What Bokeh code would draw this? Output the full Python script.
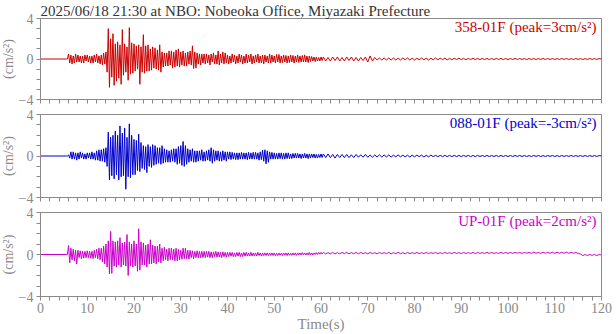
import numpy as np
from bokeh.plotting import figure
from bokeh.layouts import column
from bokeh.models import Range1d, FixedTicker, Label
from bokeh.embed import file_html
from bokeh.resources import INLINE

TITLE = "2025/06/18 21:30 at NBO: Nobeoka Office, Miyazaki Prefecture"
X_TICKS = list(range(0, 121, 10))
X_MINOR = [t for t in range(0, 121, 2) if t % 10]
X_ALL = list(range(0, 121, 2))
Y_TICKS = [-4, 0, 4]
Y_MINOR = [-3, -2, -1, 1, 2, 3]

CH_NAMES = ["358-01F", "088-01F", "UP-01F"]
CH_PEAKS = ["3", "-3", "2"]
CH_COLORS = ["#cc0000", "#0000cc", "#cc00cc"]

# sampling of the hand-read traces
LEAD_T = [0.0, 5.25]
LEAD_V = [0.0, 0.0]
FINE_T0, FINE_DT = 5.5, 0.25      # 5.5 s .. 60.25 s
COARSE_T0, COARSE_DT = 60.5, 0.5  # 60.5 s .. 120 s

# 358-01F (red)
NS_FINE = [
    0.0, 0.0,
    0.5, -0.4, 0.4, -0.5,
    0.3, -0.4, 0.5, -0.3,
    0.4, -0.3, 0.3, -0.4,
    0.3, -0.4, 0.4, -0.2,
    0.4, -0.3, 0.3, -0.4,
    0.3, -0.4, 0.4, -0.3,
    0.5, -0.4, 0.3, -0.5,
    0.4, -0.6, 0.6, -0.5,
    0.7, -1.3, 3.0, -2.8,
    2.0, -1.8, 2.5, -2.6,
    1.5, -2.2, 1.7, -1.9,
    1.4, -2.5, 2.9, -1.6,
    1.5, -1.3, 1.2, -2.1,
    3.1, -1.5, 1.6, -1.4,
    1.5, -1.2, 1.3, -1.0,
    1.4, -2.5, 1.2, -1.3,
    2.4, -1.4, 1.3, -1.2,
    1.4, -1.2, 1.0, -1.1,
    1.2, -0.9, 1.1, -1.0,
    0.9, -1.1, 1.4, -1.3,
    0.7, -0.8, 0.6, -0.7,
    0.6, -0.7, 0.8, -0.6,
    0.8, -0.9, 0.7, -0.8,
    0.9, -0.7, 1.0, -0.8,
    0.7, -0.6, 0.8, -0.7,
    0.6, -0.7, 0.7, -0.5,
    0.8, -0.6, 1.3, -0.95,
    0.7, -0.9, 0.6, -0.5,
    0.5, -0.6, 0.5, -0.4,
    0.5, -0.5,
    0.5, -0.4,
    0.4, -0.6, 0.5, -0.3,
    0.6, -0.5, 0.4, -0.5,
    0.8, -0.6, 0.5, -0.4,
    0.7, -0.5, 0.6, -0.4,
    0.4, -0.5, 0.3, -0.4,
    0.5, -0.3, 0.4, -0.5,
    0.3, -0.4, 0.5, -0.3,
    0.4, -0.5, 0.3, -0.4,
    0.5, -0.4, 0.4, -0.3,
    0.5, -0.5, 0.3, -0.4,
    0.4, -0.3, 0.5, -0.4,
    0.3, -0.4, 0.4, -0.5,
    0.4, -0.3, 0.3, -0.4,
    0.5, -0.4, 0.4, -0.3,
    0.3, -0.4, 0.45, -0.3,
    0.45, -0.4, 0.3, -0.35,
    0.4, -0.3, 0.35, -0.4,
    0.3, -0.35, 0.4, -0.3,
    0.35, -0.4, 0.3, -0.3,
    0.4, -0.35, 0.3, -0.3,
    0.35, -0.3, 0.4, -0.3,
    0.3, -0.35, 0.3, -0.25,
    0.25, -0.2, 0.2, -0.25,
    0.2, -0.2, 0.15, -0.2,
    0.2, -0.15,
]
NS_COARSE = [
    0.2, -0.2, 0.15, -0.2, 0.2, -0.15, 0.2, -0.2, 0.15, -0.2,
    0.2, -0.15, 0.2, -0.2, 0.15, -0.2, 0.15, -0.15, 0.2, -0.3,
    0.3, -0.2, 0.15, -0.1, 0.1, -0.1, 0.1, -0.1, 0.1, -0.1,
    0.1, -0.1, 0.08, -0.1, 0.1, -0.08, 0.1, -0.1, 0.08, -0.1,
    0.08, -0.08, 0.1, -0.08, 0.08, -0.1, 0.08, -0.08, 0.1, -0.08,
    0.08, -0.06, 0.08, -0.08, 0.06, -0.08, 0.08, -0.06, 0.08, -0.06,
    0.06, -0.08, 0.06, -0.06, 0.08, -0.06, 0.06, -0.06, 0.06, -0.06,
    0.06, -0.06, 0.05, -0.06, 0.06, -0.05, 0.06, -0.06, 0.05, -0.06,
    0.05, -0.05, 0.06, -0.05, 0.05, -0.05, 0.05, -0.06, 0.05, -0.05,
    0.05, -0.05, 0.05, -0.05, 0.06, -0.05, 0.05, -0.05, 0.05, -0.05,
    0.05, -0.05, 0.05, -0.04, 0.05, -0.05, 0.04, -0.05, 0.05, -0.04,
    0.04, -0.05, 0.04, -0.04, 0.05, -0.04, 0.04, -0.04, 0.04, 0.0,
]

# 088-01F (blue)
EW_FINE = [
    0.0, 0.0,
    0.1, -0.2, 0.4, -0.3,
    0.4, -0.3, 0.3, -0.4,
    0.3, -0.3, 0.4, -0.2,
    0.3, -0.3, 0.2, -0.3,
    0.3, -0.2, 0.3, -0.3,
    0.4, -0.3, 0.3, -0.4,
    0.5, -0.4, 0.6, -0.5,
    0.6, -0.5, 0.7, -0.6,
    0.8, -1.0, 2.3, -2.3,
    1.8, -1.9, 2.0, -2.2,
    2.4, -1.8, 2.0, -2.3,
    2.9, -2.0, 2.2, -1.9,
    2.7, -3.2, 1.8, -2.0,
    3.1, -2.1, 2.0, -1.8,
    1.6, -1.8, 1.5, -1.4,
    2.1, -1.5, 1.3, -1.2,
    1.0, -1.3, 0.9, -1.6,
    1.1, -1.0, 0.9, -1.1,
    1.1, -0.9, 1.0, -0.8,
    0.8, -0.7, 0.8, -0.8,
    1.0, -0.7, 0.7, -0.6,
    0.6, -0.6, 0.5, -0.6,
    0.6, -0.5, 0.7, -0.6,
    0.7, -0.8, 0.9, -0.7,
    1.0, -0.9, 1.4, -1.0,
    1.0, -0.8, 0.7, -0.6,
    0.6, -0.5, 0.7, -0.6,
    0.5, -0.6, 0.5, -0.5,
    0.5, -0.4, 0.6, -0.5,
    0.4, -0.5,
    0.5, -0.4,
    0.6, -0.5, 0.8, -0.7,
    0.6, -0.5, 0.5, -0.4,
    0.5, -0.5, 0.4, -0.5,
    0.5, -0.4, 0.4, -0.5,
    0.4, -0.3, 0.4, -0.35,
    0.35, -0.3, 0.3, -0.35,
    0.3, -0.35, 0.3, -0.3,
    0.35, -0.3, 0.3, -0.3,
    0.3, -0.35, 0.35, -0.3,
    0.3, -0.3, 0.35, -0.3,
    0.35, -0.3, 0.3, -0.4,
    0.4, -0.35, 0.55, -0.5,
    0.6, -0.75, 0.5, -0.6,
    0.4, -0.3, 0.35, -0.3,
    0.3, -0.3, 0.25, -0.3,
    0.3, -0.25, 0.3, -0.3,
    0.25, -0.3, 0.3, -0.25,
    0.3, -0.25, 0.2, -0.25,
    0.25, -0.2, 0.25, -0.2,
    0.25, -0.2, 0.2, -0.25,
    0.2, -0.2, 0.25, -0.2,
    0.2, -0.25, 0.2, -0.2,
    0.2, -0.15, 0.2, -0.2,
    0.15, -0.2, 0.15, -0.15,
    0.2, -0.15,
]
EW_COARSE = [
    0.2, -0.15, 0.2, -0.15, 0.15, -0.2, 0.15, -0.15, 0.15, -0.15,
    0.15, -0.15, 0.12, -0.15, 0.15, -0.12, 0.12, -0.12, 0.15, -0.12,
    0.1, -0.12, 0.1, -0.1, 0.12, -0.1, 0.1, -0.1, 0.1, -0.1,
    0.08, -0.08, 0.1, -0.08, 0.08, -0.08, 0.08, -0.1, 0.08, -0.08,
    0.08, -0.06, 0.08, -0.08, 0.06, -0.08, 0.08, -0.06, 0.06, -0.06,
    0.06, -0.06, 0.06, -0.06, 0.06, -0.06, 0.06, -0.06, 0.06, -0.06,
    0.06, -0.05, 0.06, -0.06, 0.05, -0.06, 0.06, -0.05, 0.05, -0.05,
    0.05, -0.05, 0.05, -0.05, 0.05, -0.05, 0.05, -0.05, 0.05, -0.05,
    0.05, -0.05, 0.05, -0.04, 0.05, -0.05, 0.05, -0.05, 0.04, -0.05,
    0.05, -0.04, 0.05, -0.05, 0.04, -0.05, 0.05, -0.04, 0.05, -0.05,
    0.04, -0.05, 0.05, -0.04, 0.04, -0.04, 0.05, -0.04, 0.04, -0.04,
    0.04, -0.04, 0.04, -0.04, 0.04, -0.04, 0.04, -0.04, 0.04, 0.0,
]

# UP-01F (magenta)
UD_FINE = [
    0.0, 0.0,
    0.85, -0.8, 0.6, -0.5,
    0.5, -0.6, 0.4, -0.9,
    0.4, -0.3, 0.35, -0.4,
    0.3, -0.35, 0.3, -0.3,
    0.35, -0.3, 0.3, -0.35,
    0.3, -0.4, 0.4, -0.3,
    0.5, -0.4, 0.6, -0.5,
    0.6, -0.7, 0.8, -0.9,
    1.0, -1.2, 1.3, -1.85,
    2.2, -1.8, 1.3, -1.1,
    1.2, -1.2, 1.3, -1.0,
    1.6, -1.2, 1.1, -1.0,
    1.2, -1.1, 1.9, -2.0,
    1.2, -1.1, 1.0, -1.2,
    1.3, -1.1, 1.0, -1.6,
    2.45, -1.5, 1.2, -1.0,
    1.1, -1.0, 0.9, -1.2,
    1.0, -0.9, 1.4, -0.9,
    0.9, -0.8, 0.8, -0.9,
    0.8, -0.7, 1.0, -0.8,
    0.6, -0.6, 0.7, -0.5,
    0.5, -0.6, 0.6, -0.5,
    0.6, -0.5, 0.5, -0.6,
    0.6, -0.6, 0.5, -0.5,
    0.4, -0.45, 0.6, -0.4,
    0.6, -0.4, 0.4, -0.45,
    0.4, -0.3, 0.35, -0.4,
    0.3, -0.3, 0.35, -0.3,
    0.3, -0.3, 0.3, -0.3,
    0.3, -0.3,
    0.3, -0.25,
    0.3, -0.3, 0.25, -0.3,
    0.25, -0.2, 0.3, -0.25,
    0.25, -0.25, 0.2, -0.3,
    0.25, -0.2, 0.2, -0.25,
    0.2, -0.2, 0.2, -0.15,
    0.2, -0.2, 0.15, -0.2,
    0.2, -0.15, 0.2, -0.2,
    0.15, -0.2, 0.2, -0.15,
    0.2, -0.15, 0.15, -0.15,
    0.2, -0.15, 0.15, -0.15,
    0.15, -0.15, 0.2, -0.1,
    0.15, -0.15, 0.15, -0.1,
    0.15, -0.1, 0.15, -0.1,
    0.15, -0.1, 0.15, -0.1,
    0.15, -0.1, 0.12, -0.1,
    0.15, -0.08, 0.12, -0.1,
    0.15, -0.08, 0.15, -0.1,
    0.15, -0.08, 0.12, -0.08,
    0.15, -0.05, 0.15, -0.08,
    0.15, -0.05, 0.15, -0.05,
    0.18, -0.05, 0.15, -0.05,
    0.15, -0.05, 0.2, -0.05,
    0.15, -0.05, 0.15, 0.0,
    0.18, 0.0, 0.2, 0.02,
    0.2, 0.05,
]
UD_COARSE = [
    0.2, 0.05, 0.18, 0.06, 0.2, 0.05, 0.18, 0.06, 0.2, 0.08,
    0.2, 0.06, 0.18, 0.08, 0.2, 0.06, 0.2, 0.08, 0.18, 0.06,
    0.2, 0.08, 0.18, 0.06, 0.2, 0.08, 0.18, 0.08, 0.2, 0.06,
    0.18, 0.08, 0.2, 0.08, 0.18, 0.06, 0.2, 0.08, 0.18, 0.08,
    0.2, 0.08, 0.18, 0.08, 0.2, 0.08, 0.18, 0.1, 0.2, 0.08,
    0.18, 0.08, 0.2, 0.1, 0.18, 0.08, 0.2, 0.1, 0.18, 0.08,
    0.2, 0.1, 0.18, 0.1, 0.2, 0.08, 0.2, 0.1, 0.18, 0.1,
    0.2, 0.1, 0.2, 0.1, 0.18, 0.1, 0.2, 0.1, 0.2, 0.1,
    0.2, 0.1, 0.2, 0.12, 0.2, 0.1, 0.2, 0.12, 0.2, 0.1,
    0.22, 0.12, 0.2, 0.1, 0.22, 0.12, 0.2, 0.12, 0.22, 0.1,
    0.22, 0.12, 0.2, 0.12, 0.22, 0.12, 0.2, 0.12, 0.2, 0.1,
    0.05, -0.1, 0.0, -0.1, 0.0, -0.08, 0.0, -0.1, 0.0, -0.05,
]

GRAY = "#8a8a8a"
FONT = "Liberation Serif"


def trace_xy(fine, coarse):
    t = list(LEAD_T)
    t += [FINE_T0 + FINE_DT * i for i in range(len(fine))]
    t += [COARSE_T0 + COARSE_DT * i for i in range(len(coarse))]
    v = list(LEAD_V) + list(fine) + list(coarse)
    return t, v


def make_panel(fine, coarse, name, peak, color, height, top, bottom, last, title=None):
    p = figure(width=616, height=height, x_range=Range1d(0, 120), y_range=Range1d(-4, 4),
               output_backend="svg", toolbar_location=None,
               min_border_left=42, min_border_right=12,
               min_border_top=top, min_border_bottom=bottom)
    p.xgrid.grid_line_color = None
    p.ygrid.grid_line_color = None
    p.outline_line_color = GRAY
    p.outline_line_width = 1

    t, v = trace_xy(fine, coarse)
    p.line(t, v, line_color=color, line_width=1)

    xa = p.xaxis[0]
    if last:
        xa.ticker = FixedTicker(ticks=X_TICKS, minor_ticks=X_MINOR)
    else:
        xa.ticker = FixedTicker(ticks=[], minor_ticks=X_ALL)
    ya = p.yaxis[0]
    ya.ticker = FixedTicker(ticks=Y_TICKS, minor_ticks=Y_MINOR)
    for ax in (xa, ya):
        ax.axis_line_color = GRAY
        ax.major_tick_line_color = GRAY
        ax.minor_tick_line_color = GRAY
        ax.major_tick_in = 0
        ax.major_tick_out = 4
        ax.minor_tick_in = 0
        ax.minor_tick_out = 4
        ax.major_label_text_font = FONT
        ax.major_label_text_color = GRAY
        ax.major_label_text_font_size = "14px"
        ax.axis_label_text_font = FONT
        ax.axis_label_text_color = GRAY
        ax.axis_label_text_font_size = "15px"
        ax.axis_label_text_font_style = "normal"
    ya.axis_label = "(cm/s²)"
    ya.axis_label_text_font_size = "14px"
    ya.major_label_standoff = 3
    ya.axis_label_standoff = 0
    if last:
        xa.axis_label = "Time(s)"
        xa.major_label_standoff = 2
        xa.axis_label_standoff = 0
    else:
        xa.major_label_standoff = 0

    p.add_layout(Label(x=120, y=4, x_offset=-5, y_offset=-8,
                       text=f"{name} (peak={peak}cm/s²)",
                       text_font=FONT, text_font_size="15px", text_color=color,
                       text_align="right", text_baseline="middle"))
    if title:
        p.title.text = title
        p.title.align = "left"
        p.title.text_font = FONT
        p.title.text_font_size = "15px"
        p.title.text_font_style = "normal"
        p.title.text_color = "#333333"
        p.title.standoff = 0
        p.title.offset = 0
    return p


p1 = make_panel(NS_FINE, NS_COARSE, CH_NAMES[0], CH_PEAKS[0], CH_COLORS[0],
                106, 16, 7, False, title=TITLE)
p2 = make_panel(EW_FINE, EW_COARSE, CH_NAMES[1], CH_PEAKS[1], CH_COLORS[1],
                98, 8, 7, False)
p3 = make_panel(UD_FINE, UD_COARSE, CH_NAMES[2], CH_PEAKS[2], CH_COLORS[2],
                130, 8, 38, True)

layout = column(p1, p2, p3, margin=(0, 0, -8, -3))

open("out.html", "w").write(file_html(layout, INLINE))
